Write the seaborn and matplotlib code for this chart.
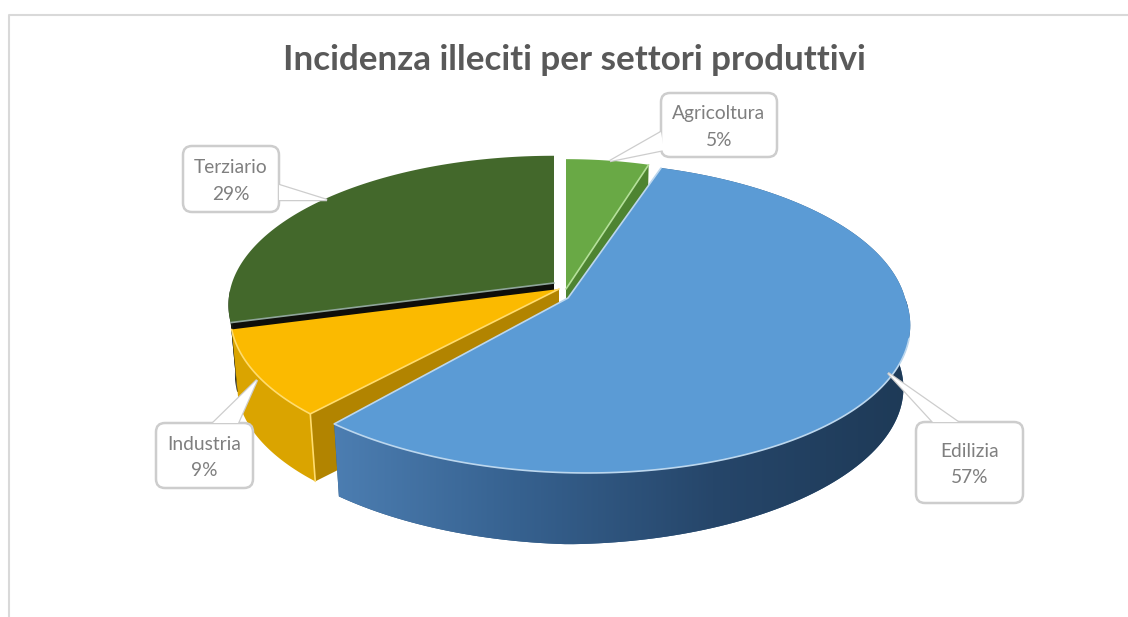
"""Camembert 3D des illeciti par settore, dessine a la main avec des polygones."""

import matplotlib
matplotlib.use("Agg")

import matplotlib.pyplot as plt
import numpy as np
import seaborn as sns
from matplotlib.patches import FancyBboxPatch, Polygon

TITLE = "Incidenza illeciti per settori produttivi"
SECTORS = ["Agricoltura", "Edilizia", "Industria", "Terziario"]
SHARES = [5.0, 56.6, 9.2, 29.2]

TOP_COLORS = ["#69A945", "#5B9BD5", "#FBBA00", "#43682B"]
SIDE_COLORS = ["#4E8431", "#2F5880", "#DAA400", "#151A10"]
CUT_COLORS = ["#4E8431", "#2F5880", "#B28400", "#0E0E0A"]
RIM_COLORS = ["#B5E09A", "#BCD7EE", "#FFDC6E", "#8FA59A"]

# sommet de chaque part explosee, en pixels
APEX_X = [566, 568, 559, 554]
APEX_Y = [289, 298, 289, 283]
RADIUS_X = [305, 337, 324, 322]
RADIUS_Y = [149, 153, 149, 146]
TILT = [0.1475, 0.1256, 0.1475, 0.1475]
SHEAR = [0.0, 0.11, -0.05, 0.0]
DEPTH = [71, 75, 70, 70]
DEPTH_SLOPE = [0.0, 0.035, 0.0, 0.0]
BOTTOM_SCALE = 0.98

BOX_X = [661, 916, 156, 183]
BOX_Y = [93, 422, 423, 146]
BOX_W = [116, 107, 97, 96]
BOX_H = [64, 81, 65, 66]
LEADER_A = [(661, 132), (933, 422), (213, 423), (279, 185)]
LEADER_TIP = [(610, 161), (888, 373), (257, 380), (327, 200)]
LEADER_B = [(664, 150), (958, 422), (238, 423), (279, 200)]

PAINT_ORDER = {3: 1, 0: 2, 2: 3, 1: 4}


def rim(i, theta, bottom=False):
    t = np.pi / 2 - np.radians(np.atleast_1d(theta))
    f = 1 / (1 + TILT[i] * np.sin(t))
    scale = BOTTOM_SCALE if bottom else 1.0
    dy = -scale * RADIUS_Y[i] * np.sin(t) * f
    dx = scale * RADIUS_X[i] * np.cos(t) * f + SHEAR[i] * np.maximum(dy, 0)
    depth = DEPTH[i] - DEPTH_SLOPE[i] * np.maximum(dx, 0) if bottom else 0
    return np.column_stack([APEX_X[i] + dx, APEX_Y[i] + dy + depth])


def draw_sides(ax, i, start, stop, gradient=None):
    thetas = np.linspace(start, stop, 160)
    outer = np.vstack([rim(i, thetas), rim(i, thetas, bottom=True)[::-1]])
    patch = Polygon(outer, closed=True, facecolor=SIDE_COLORS[i], edgecolor="none", zorder=PAINT_ORDER[i])
    ax.add_patch(patch)
    if gradient is not None:
        image = ax.imshow(
            np.linspace(0, 1, 256).reshape(1, -1),
            cmap=gradient,
            extent=(325, 908, 560, 300),
            aspect="auto",
            zorder=PAINT_ORDER[i],
        )
        image.set_clip_path(patch)


def draw_cut(ax, i, theta):
    top = rim(i, theta)[0]
    low = rim(i, theta, bottom=True)[0]
    points = [(APEX_X[i], APEX_Y[i]), top, low, (APEX_X[i], APEX_Y[i] + DEPTH[i])]
    ax.add_patch(Polygon(points, closed=True, facecolor=CUT_COLORS[i], edgecolor="none", zorder=PAINT_ORDER[i]))


def draw_top(ax, i, start, stop):
    thetas = np.linspace(start, stop, 160)
    points = np.vstack([[APEX_X[i], APEX_Y[i]], rim(i, thetas)])
    ax.add_patch(Polygon(points, closed=True, facecolor=TOP_COLORS[i], edgecolor="none", zorder=PAINT_ORDER[i] + 0.5))


def draw_highlight(ax, i, points):
    points = np.asarray(points)
    ax.plot(points[:, 0], points[:, 1], color=RIM_COLORS[i], linewidth=1.2, solid_joinstyle="round",
            zorder=PAINT_ORDER[i] + 0.6)


def draw_callout(ax, i, label):
    edge = "#CDCDCD"
    x, y, w, h = BOX_X[i], BOX_Y[i], BOX_W[i], BOX_H[i]
    wedge = [LEADER_A[i], LEADER_TIP[i], LEADER_B[i]]
    ax.add_patch(Polygon(wedge, closed=True, facecolor="white", edgecolor=edge, linewidth=1.8, zorder=9))
    pad = 9
    ax.add_patch(
        FancyBboxPatch((x + pad, y + pad), w - 2 * pad, h - 2 * pad,
                       boxstyle=f"round,pad={pad},rounding_size={pad}",
                       facecolor="white", edgecolor=edge, linewidth=1.8, zorder=10)
    )
    ax.add_patch(Polygon(wedge, closed=True, facecolor="white", edgecolor="none", zorder=10.5))
    ax.text(x + w / 2, y + h / 2 + 2, label, ha="center", va="center", color="#7F7F7F",
            fontsize=13.8, linespacing=1.7, zorder=11)


def main():
    sns.set_theme(style="white")
    plt.rcParams["font.family"] = ["Lato", "DejaVu Sans"]

    fig = plt.figure(figsize=(11.28, 6.17), dpi=100)
    ax = fig.add_axes([0, 0, 1, 1])
    ax.set_axis_off()

    ax.plot([8.5, 8.5, 1128], [617, 14.5, 14.5], color="#D9D9D9", linewidth=1.5, zorder=0)

    edges = np.concatenate([[0], np.cumsum(SHARES)]) * 3.6
    blue_side = sns.blend_palette(["#4D7FB3", "#36618F", "#26466A", "#1E3A57"], as_cmap=True)

    # Terziario
    draw_cut(ax, 3, edges[3])
    draw_sides(ax, 3, edges[3], edges[3] + 12)
    draw_top(ax, 3, edges[3], edges[4])
    draw_highlight(ax, 3, [(APEX_X[3], APEX_Y[3]), rim(3, edges[3])[0]])
    # Agricoltura
    draw_cut(ax, 0, edges[1])
    draw_top(ax, 0, edges[0], edges[1])
    draw_highlight(ax, 0, [(APEX_X[0], APEX_Y[0]), rim(0, edges[1])[0]])
    # Industria
    draw_cut(ax, 2, edges[2])
    draw_sides(ax, 2, edges[2], edges[3])
    draw_top(ax, 2, edges[2], edges[3])
    arc = rim(2, np.linspace(edges[3], edges[2], 80))
    draw_highlight(ax, 2, np.vstack([arc, [(APEX_X[2], APEX_Y[2])]]))
    draw_highlight(ax, 2, [rim(2, edges[2])[0], rim(2, edges[2], bottom=True)[0]])
    # Edilizia
    draw_sides(ax, 1, edges[1], edges[2], gradient=blue_side)
    draw_top(ax, 1, edges[1], edges[2])
    front = rim(1, np.linspace(edges[2], 105, 120))
    draw_highlight(ax, 1, np.vstack([rim(1, edges[1]), [(APEX_X[1], APEX_Y[1])], front]))

    for i, sector in enumerate(SECTORS):
        draw_callout(ax, i, f"{sector}\n{SHARES[i]:.0f}%")

    ax.text(574, 60, TITLE, ha="center", va="center", color="#595959", fontsize=25.2,
            fontweight="bold", zorder=12)

    ax.set_xlim(0, 1128)
    ax.set_ylim(617, 0)
    fig.savefig("out.png", dpi=100, facecolor="white")
    plt.close(fig)


if __name__ == "__main__":
    main()
